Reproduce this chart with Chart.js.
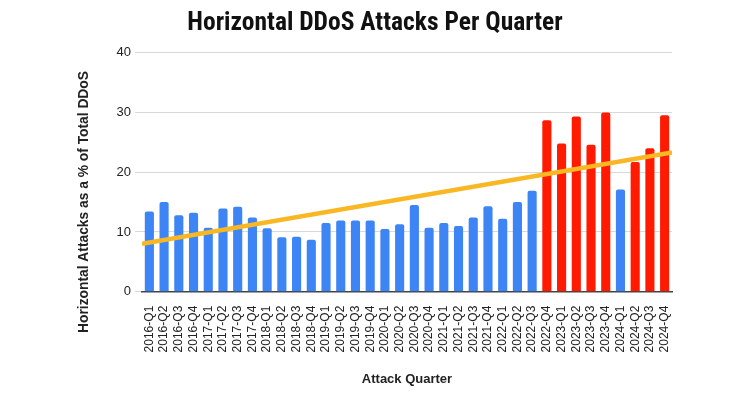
<!DOCTYPE html>
<html>
<head>
<meta charset="utf-8">
<script src="https://cdn.jsdelivr.net/npm/chart.js@4.4.1/dist/chart.umd.min.js"></script>
<style>
  html, body { margin: 0; padding: 0; background: #fff; }
  #wrap { width: 750px; height: 393px; }
</style>
</head>
<body>
<div id="wrap"><canvas id="ddosChart"></canvas></div>
<script>
// 분기 라벨
const quarters = [
    '2016-Q1', '2016-Q2', '2016-Q3', '2016-Q4',
    '2017-Q1', '2017-Q2', '2017-Q3', '2017-Q4',
    '2018-Q1', '2018-Q2', '2018-Q3', '2018-Q4',
    '2019-Q1', '2019-Q2', '2019-Q3', '2019-Q4',
    '2020-Q1', '2020-Q2', '2020-Q3', '2020-Q4',
    '2021-Q1', '2021-Q2', '2021-Q3', '2021-Q4',
    '2022-Q1', '2022-Q2', '2022-Q3', '2022-Q4',
    '2023-Q1', '2023-Q2', '2023-Q3', '2023-Q4',
    '2024-Q1', '2024-Q2', '2024-Q3', '2024-Q4'
];

// 전체 DDoS 중 수평 공격 비율 (%)
const horizontalShare = [
    13.4, 15.0, 12.8, 13.2,
    10.7, 13.9, 14.2, 12.4,
    10.6, 9.1, 9.2, 8.7,
    11.5, 11.9, 11.9, 11.9,
    10.5, 11.3, 14.5, 10.7,
    11.5, 11.0, 12.4, 14.3,
    12.2, 15.0, 16.9, 28.7,
    24.8, 29.3, 24.6, 30.0,
    17.1, 21.7, 24.0, 29.5
];

// 빨간색으로 강조된 분기
const highlightedQuarters = [
    '2022-Q4', '2023-Q1', '2023-Q2', '2023-Q3', '2023-Q4',
    '2024-Q2', '2024-Q3', '2024-Q4'
];

// 추세선 양 끝 값
const trendEnds = [8.0, 23.3];

// y축 눈금
const yTicks = [0, 10, 20, 30, 40];

const BLUE = '#3d85f5';
const RED = '#ff1a00';
const YELLOW = '#f9b823';

const barColors = quarters.map(q => highlightedQuarters.includes(q) ? RED : BLUE);

// y축 제목 (플롯 중심보다 약간 아래쪽)
const yTitlePlugin = {
    id: 'yTitle',
    afterDraw(chart) {
        const ctx = chart.ctx;
        ctx.save();
        ctx.translate(84, 202);
        ctx.rotate(-Math.PI / 2);
        ctx.font = 'bold 13.8px "Liberation Sans", Arial, sans-serif';
        ctx.fillStyle = '#222';
        ctx.textAlign = 'center';
        ctx.textBaseline = 'middle';
        ctx.fillText('Horizontal Attacks as a % of Total DDoS', 0, 0);
        ctx.restore();
    }
};

const ctx = document.getElementById('ddosChart').getContext('2d');
new Chart(ctx, {
    data: {
        labels: quarters,
        datasets: [
            {
                type: 'line',
                xAxisID: 'xTrend',
                data: [
                    { x: -0.5, y: trendEnds[0] },
                    { x: quarters.length - 0.5, y: trendEnds[1] }
                ],
                borderColor: YELLOW,
                borderWidth: 4.5,
                pointRadius: 0,
                order: 0
            },
            {
                type: 'bar',
                data: horizontalShare,
                backgroundColor: barColors,
                grouped: false,
                barPercentage: 0.62,
                categoryPercentage: 1.0,
                borderRadius: { topLeft: 2, topRight: 2 },
                borderSkipped: 'bottom',
                order: 1
            }
        ]
    },
    options: {
        responsive: true,
        maintainAspectRatio: false,
        animation: false,
        layout: { padding: { left: 78, right: 78, top: 4, bottom: 6 } },
        plugins: {
            legend: { display: false },
            tooltip: { enabled: false },
            title: {
                display: true,
                text: 'Horizontal DDoS Attacks Per Quarter',
                color: '#111',
                font: { family: '"Roboto Condensed", "Liberation Sans Narrow", "DejaVu Sans Condensed", Roboto, sans-serif', size: 25.5, weight: 'bold' },
                padding: { top: 4, bottom: 14 }
            }
        },
        scales: {
            x: {
                type: 'category',
                offset: true,
                grid: { display: false },
                border: { display: true, color: '#444', width: 1.5 },
                ticks: {
                    autoSkip: false,
                    maxRotation: 90,
                    minRotation: 90,
                    color: '#222',
                    padding: 6,
                    font: { family: '"Liberation Sans", Arial, sans-serif', size: 12 }
                },
                title: {
                    display: true,
                    text: 'Attack Quarter',
                    color: '#222',
                    font: { family: '"Liberation Sans", Arial, sans-serif', size: 13, weight: 'bold' },
                    padding: { top: 13, bottom: 0 }
                }
            },
            xTrend: {
                type: 'linear',
                display: false,
                min: -0.5,
                max: quarters.length - 0.5
            },
            y: {
                min: yTicks[0],
                max: yTicks[yTicks.length - 1],
                border: { display: false },
                grid: { color: '#d9d9d9', lineWidth: 1, tickLength: 7 },
                afterBuildTicks(axis) {
                    axis.ticks = yTicks.map(v => ({ value: v }));
                },
                afterFit(axis) {
                    axis.width = 64;
                },
                ticks: {
                    color: '#222',
                    padding: 4,
                    font: { family: '"Liberation Sans", Arial, sans-serif', size: 13 }
                }
            }
        }
    },
    plugins: [yTitlePlugin]
});
</script>
</body>
</html>
